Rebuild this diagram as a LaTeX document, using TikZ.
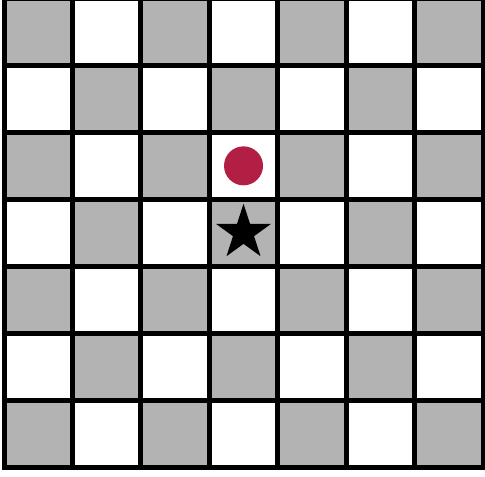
\documentclass[tikz,border=0pt]{standalone}
\usetikzlibrary{shapes.geometric}
\definecolor{cellgray}{HTML}{B3B3B3}
\definecolor{dotred}{HTML}{B31E45}
\tikzset{
  boardline/.style={line width=0.15cm, line cap=rect},
  marker/.style={inner sep=0pt, outer sep=0pt}
}
\begin{document}
\begin{tikzpicture}[x=0.03cm, y=0.03cm]
  \fill[white] (0,0) rectangle (485,476);
  \useasboundingbox (0,0) rectangle (485,476);
  \begin{scope}[shift={(4,477.5)}, x=2.0529cm, y=-2.0079cm]
    % squares
    \foreach \i in {0,...,6}
      \foreach \j in {0,...,6} {
        \pgfmathparse{int(mod(\i+\j,2))}
        \ifnum\pgfmathresult=0
          \fill[cellgray] (\i,\j) rectangle ++(1,1);
        \fi
      }
    % lines
    \foreach \k in {0,...,7} {
      \draw[boardline] (\k,0) -- (\k,7);
      \draw[boardline] (0,\k) -- (7,\k);
    }
    \node[marker, circle, fill=dotred, minimum size=1.17cm] (dot) at (3.5,2.5) {};
    \node[marker, star, star points=5, star point ratio=2.618, fill=black, minimum size=1.74cm] (target) at (3.5,3.5) {};
  \end{scope}
\end{tikzpicture}
\end{document}
